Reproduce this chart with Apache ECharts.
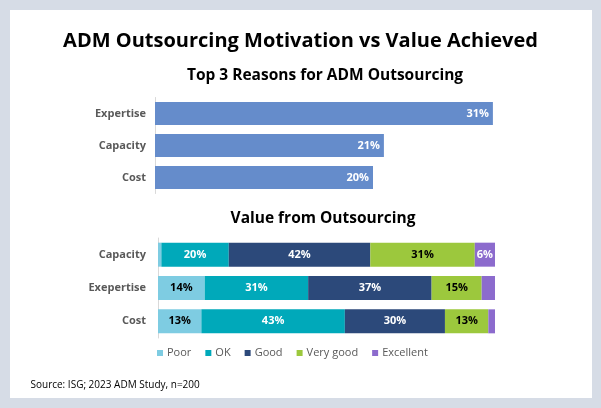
<!DOCTYPE html>
<html>
<head>
<meta charset="utf-8">
<script src="https://cdn.jsdelivr.net/npm/echarts@6/dist/echarts.min.js"></script>
<style>
html,body{margin:0;padding:0;background:#d6dce6;}
#frame{position:absolute;left:10px;top:10px;width:582px;height:388px;background:#ffffff;}
#chart{position:absolute;left:0;top:0;width:601px;height:408px;}
</style>
</head>
<body>
<div id="frame"></div>
<div id="chart"></div>
<script>
const reasonCategories = ['Expertise', 'Capacity', 'Cost'];
const reasonValues = [31, 21, 20];

const valueCategories = ['Capacity', 'Exepertise', 'Cost'];
const ratingNames = ['Poor', 'OK', 'Good', 'Very good', 'Excellent'];
const poorValues = [1, 14, 13];
const okValues = [20, 31, 43];
const goodValues = [42, 37, 30];
const veryGoodValues = [31, 15, 13];
const excellentValues = [6, 4, 2];

const titleText = 'ADM Outsourcing Motivation vs Value Achieved';
const subTitle1 = 'Top 3 Reasons for ADM Outsourcing';
const subTitle2 = 'Value from Outsourcing';
const sourceText = 'Source: ISG; 2023 ADM Study, n=200';

const ratingColors = ['#7ecce2', '#00a9ba', '#2c497a', '#9cc83d', '#8c6bcd'];
const labelColors = ['#000000', '#ffffff', '#ffffff', '#000000', '#ffffff'];
const ratingSeriesData = [poorValues, okValues, goodValues, veryGoodValues, excellentValues];

// 100% stacked: each row is drawn as share of its total
const rowTotals = valueCategories.map((c, j) =>
  ratingSeriesData.reduce((s, arr) => s + arr[j], 0));

const FONT = 'Open Sans';
const chart = echarts.init(document.getElementById('chart'), null, {renderer: 'canvas'});

const stackedSeries = ratingNames.map((name, i) => ({
  name: name,
  type: 'bar',
  stack: 'value',
  xAxisIndex: 1,
  yAxisIndex: 1,
  barWidth: 24,
  itemStyle: {color: ratingColors[i]},
  emphasis: {disabled: true},
  label: {
    show: true,
    position: 'inside',
    color: labelColors[i],
    fontFamily: FONT,
    fontWeight: 'bold',
    fontSize: 11,
    formatter: p => {
      const raw = ratingSeriesData[i][p.dataIndex];
      return raw >= 5 ? raw + '%' : '';
    }
  },
  data: ratingSeriesData[i].map((v, j) => v / rowTotals[j] * 100)
}));

chart.setOption({
  animation: false,
  title: [
    {text: titleText, left: 'center', top: 26,
     textStyle: {fontFamily: FONT, fontWeight: 'bold', fontSize: 20, color: '#000'}}
  ],
  graphic: [
    {type: 'text', x: 325, y: 76,
     style: {text: subTitle1, textAlign: 'center', textVerticalAlign: 'middle',
             font: 'bold 15.5px "Open Sans"', fill: '#000'}},
    {type: 'text', x: 323, y: 218.5,
     style: {text: subTitle2, textAlign: 'center', textVerticalAlign: 'middle',
             font: 'bold 15.5px "Open Sans"', fill: '#000'}},
    {type: 'text', x: 30.5, y: 385,
     style: {text: sourceText, textAlign: 'left', textVerticalAlign: 'middle',
             font: '10px "Open Sans"', fill: '#000'}}
  ],
  legend: {
    data: ratingNames,
    left: 157,
    top: 347.5,
    padding: 0,
    icon: 'rect',
    itemWidth: 6,
    itemHeight: 6,
    itemGap: 14,
    selectedMode: false,
    textStyle: {fontFamily: FONT, fontSize: 11, color: '#595959', padding: [0, 0, 0, -1]}
  },
  grid: [
    {left: 155, top: 97.5, width: 436, height: 96},
    {left: 158, top: 238, width: 337, height: 100}
  ],
  xAxis: [
    {type: 'value', gridIndex: 0, min: 0, max: 40, show: false},
    {type: 'value', gridIndex: 1, min: 0, max: 100, show: false}
  ],
  yAxis: [
    {type: 'category', gridIndex: 0, data: reasonCategories, inverse: true,
     axisLine: {show: true, lineStyle: {color: '#d9d9d9', width: 1}},
     axisTick: {show: false},
     axisLabel: {fontFamily: FONT, fontWeight: 'bold', fontSize: 11, color: '#595959', margin: 9}},
    {type: 'category', gridIndex: 1, data: valueCategories, inverse: true,
     axisLine: {show: true, lineStyle: {color: '#d9d9d9', width: 1}},
     axisTick: {show: false},
     axisLabel: {fontFamily: FONT, fontWeight: 'bold', fontSize: 11, color: '#595959', margin: 12}}
  ],
  series: [
    {
      type: 'bar',
      xAxisIndex: 0,
      yAxisIndex: 0,
      barWidth: 23,
      itemStyle: {color: '#658ccb'},
      emphasis: {disabled: true},
      label: {
        show: true,
        position: 'insideRight',
        distance: 4,
        color: '#ffffff',
        fontFamily: FONT,
        fontWeight: 'bold',
        fontSize: 11,
        formatter: p => p.value + '%'
      },
      data: reasonValues
    }
  ].concat(stackedSeries)
});
</script>
</body>
</html>
